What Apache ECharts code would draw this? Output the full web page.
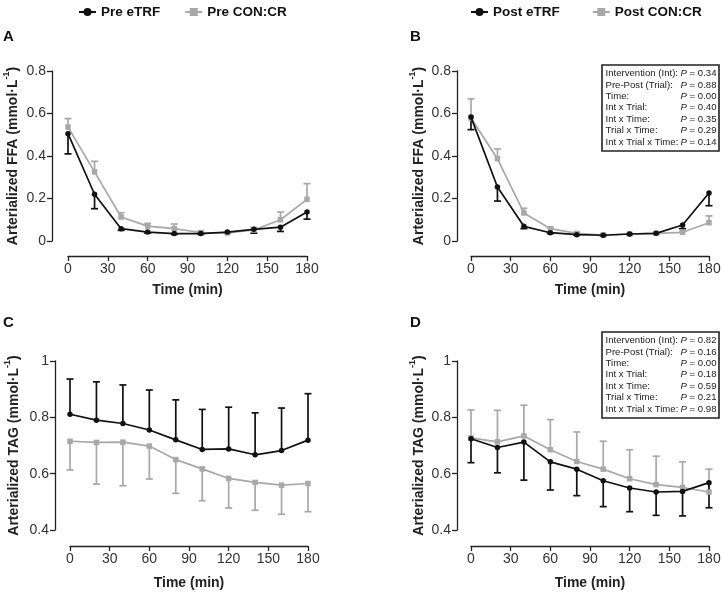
<!DOCTYPE html>
<html><head><meta charset="utf-8">
<script src="https://cdn.jsdelivr.net/npm/echarts@6/dist/echarts.min.js"></script>
<style>html,body{margin:0;padding:0;background:#fff}#c{width:723px;height:593px}</style>
</head><body><div id="c"></div>
<script>
// ---------- data ----------
const times = [0, 20, 40, 60, 80, 100, 120, 140, 160, 180];
const xTicks = [0, 30, 60, 90, 120, 150, 180];

// Panel A: FFA pre
const ffaPreETRF     = [0.505, 0.220, 0.058, 0.042, 0.035, 0.035, 0.042, 0.055, 0.065, 0.136];
const ffaPreETRFSem  = [0.095, 0.068, 0.008, 0.005, 0.004, 0.004, 0.004, 0.018, 0.020, 0.033];
const ffaPreCON      = [0.536, 0.325, 0.113, 0.070, 0.058, 0.040, 0.038, 0.052, 0.100, 0.196];
const ffaPreCONSem   = [0.040, 0.050, 0.020, 0.013, 0.022, 0.006, 0.004, 0.012, 0.036, 0.074];
// Panel B: FFA post
const ffaPostETRF    = [0.583, 0.254, 0.069, 0.039, 0.030, 0.027, 0.033, 0.036, 0.075, 0.226];
const ffaPostETRFSem = [0.059, 0.066, 0.011, 0.004, 0.003, 0.003, 0.003, 0.003, 0.017, 0.060];
const ffaPostCON     = [0.579, 0.387, 0.132, 0.058, 0.036, 0.028, 0.033, 0.036, 0.041, 0.086];
const ffaPostCONSem  = [0.090, 0.046, 0.022, 0.006, 0.004, 0.003, 0.003, 0.003, 0.004, 0.032];
// Panel C: TAG pre
const tagPreETRF     = [0.811, 0.790, 0.778, 0.755, 0.720, 0.686, 0.688, 0.667, 0.682, 0.719];
const tagPreETRFSem  = [0.125, 0.136, 0.137, 0.142, 0.142, 0.142, 0.148, 0.149, 0.151, 0.165];
const tagPreCON      = [0.715, 0.711, 0.712, 0.698, 0.650, 0.617, 0.583, 0.569, 0.559, 0.565];
const tagPreCONSem   = [0.102, 0.148, 0.155, 0.117, 0.120, 0.113, 0.105, 0.099, 0.103, 0.100];
// Panel D: TAG post
const tagPostETRF    = [0.724, 0.693, 0.712, 0.642, 0.616, 0.575, 0.549, 0.535, 0.537, 0.568];
const tagPostETRFSem = [0.085, 0.090, 0.135, 0.100, 0.094, 0.092, 0.084, 0.083, 0.087, 0.089];
const tagPostCON     = [0.727, 0.713, 0.734, 0.685, 0.643, 0.616, 0.582, 0.561, 0.551, 0.535];
const tagPostCONSem  = [0.099, 0.112, 0.109, 0.107, 0.105, 0.099, 0.103, 0.101, 0.091, 0.081];

const statLabels = ['Intervention (Int):', 'Pre-Post (Trial):', 'Time:', 'Int x Trial:', 'Int x Time:', 'Trial x Time:', 'Int x Trial x Time:'];
const statPB = ['0.34', '0.88', '0.00', '0.40', '0.35', '0.29', '0.14'];
const statPD = ['0.82', '0.16', '0.00', '0.18', '0.59', '0.21', '0.98'];

const ffaTicks = [0, 0.2, 0.4, 0.6, 0.8];
const tagTicks = [0.4, 0.6, 0.8, 1];

// ---------- style ----------
const FONT = "'Liberation Sans', Arial, sans-serif";
const BLACK = '#111111';
const GRAY = '#a8a8a8';

const grids = [
  { left: 68, top: 71, width: 239, height: 170 },
  { left: 471, top: 71, width: 238, height: 170 },
  { left: 70, top: 361, width: 238, height: 169 },
  { left: 471, top: 361, width: 238, height: 169 }
].map(g => Object.assign(g, { containLabel: false, outerBoundsMode: 'none' }));
const yOff = [16, 14, 15, 14];
const xOff = [15, 15, 16, 16];
const nameGapY = [32, 31, 34, 31];
const nameGapX = [27, 27, 30, 30];

function xAxis(i) {
  return {
    gridIndex: i, type: 'value', min: xTicks[0], max: xTicks[xTicks.length - 1], interval: 30,
    offset: xOff[i],
    axisLine: { show: true, onZero: false, lineStyle: { color: '#222', width: 1.3 } },
    axisTick: { show: true, length: 5, lineStyle: { color: '#222', width: 1.3 } },
    axisLabel: { fontFamily: FONT, fontSize: 14, color: '#333', margin: 6 },
    splitLine: { show: false },
    name: 'Time (min)', nameLocation: 'middle', nameGap: nameGapX[i], nameMoveOverlap: false,
    nameTextStyle: { fontFamily: FONT, fontSize: 14, fontWeight: 'bold', color: '#222' }
  };
}
function yAxis(i, ffa) {
  const ticks = ffa ? ffaTicks : tagTicks;
  const lbl = ffa ? 'Arterialized FFA (mmol·L' : 'Arterialized TAG (mmol·L';
  return {
    gridIndex: i, type: 'value', min: ticks[0], max: ticks[ticks.length - 1], interval: 0.2,
    offset: yOff[i],
    axisLine: { show: true, onZero: false, lineStyle: { color: '#222', width: 1.3 } },
    axisTick: { show: true, length: 5, lineStyle: { color: '#222', width: 1.3 } },
    axisLabel: { fontFamily: FONT, fontSize: 14, color: '#333', margin: 6 },
    splitLine: { show: false },
    name: '{a|' + lbl + '}{s|-1}{a|)}', nameLocation: 'middle', nameGap: nameGapY[i], nameMoveOverlap: false,
    nameTextStyle: {
      rich: {
        a: { fontFamily: FONT, fontSize: 14, fontWeight: 'bold', color: '#222', lineHeight: 18, verticalAlign: 'bottom' },
        s: { fontFamily: FONT, fontSize: 9, fontWeight: 'bold', color: '#222', lineHeight: 18, verticalAlign: 'top' }
      }
    }
  };
}

function lineSeries(name, i, vals, color, symbol) {
  return {
    name: name, type: 'line', xAxisIndex: i, yAxisIndex: i,
    data: times.map((t, k) => [t, vals[k]]),
    symbol: symbol, symbolSize: 5.5,
    showSymbol: true,
    lineStyle: { color: color, width: 1.7 },
    itemStyle: { color: color },
    z: color === BLACK ? 4 : 3,
    animation: false
  };
}
function errSeries(i, vals, sems, dir, color) {
  return {
    type: 'custom', xAxisIndex: i, yAxisIndex: i,
    data: times.map((t, k) => [t, vals[k], sems[k]]),
    encode: { x: 0, y: 1 },
    clip: false, silent: true, animation: false,
    z: color === BLACK ? 2 : 1,
    renderItem: function (params, api) {
      const t = api.value(0), m = api.value(1), s = api.value(2);
      const p0 = api.coord([t, m]);
      const p1 = api.coord([t, m + dir * s]);
      const st = { stroke: color, lineWidth: 1.7 };
      return {
        type: 'group', children: [
          { type: 'line', shape: { x1: p0[0], y1: p0[1], x2: p1[0], y2: p1[1] }, style: st },
          { type: 'line', shape: { x1: p1[0] - 3.5, y1: p1[1], x2: p1[0] + 3.5, y2: p1[1] }, style: st }
        ]
      };
    }
  };
}

function statBox(x, y, w, h, pvals) {
  const children = [{ type: 'rect', shape: { x: x, y: y, width: w, height: h }, style: { fill: '#fff', stroke: '#222', lineWidth: 1.6 } }];
  statLabels.forEach((l, k) => {
    const cy = y + 8.5 + k * 11.4;
    children.push({ type: 'text', style: { x: x + 3.5, y: cy, text: l, font: '9.6px ' + FONT, fill: '#222', textAlign: 'left', textVerticalAlign: 'middle' } });
    children.push({ type: 'text', style: { x: x + w - 2.5, y: cy, text: '{i|P} = ' + pvals[k], font: '9.6px ' + FONT, fill: '#222', textAlign: 'right', textVerticalAlign: 'middle',
      rich: { i: { fontStyle: 'italic', fontFamily: FONT, fontSize: 9.6, fill: '#222', color: '#222' } } } });
  });
  return { type: 'group', children: children, z: 100 };
}
function letter(t, x, y) {
  return { type: 'text', style: { x: x, y: y, text: t, font: 'bold 15px ' + FONT, fill: '#111', textVerticalAlign: 'middle' } };
}

const chart = echarts.init(document.getElementById('c'), null, { renderer: 'canvas' });
chart.setOption({
  animation: false,
  backgroundColor: '#fff',
  grid: grids,
  xAxis: [xAxis(0), xAxis(1), xAxis(2), xAxis(3)],
  yAxis: [yAxis(0, true), yAxis(1, true), yAxis(2, false), yAxis(3, false)],
  legend: [
    { data: ['Pre eTRF', 'Pre CON:CR'], left: 73, top: 0, itemWidth: 17, itemHeight: 10, itemGap: 24,
      textStyle: { fontFamily: FONT, fontSize: 13.5, fontWeight: 'bold', color: '#111' } },
    { data: ['Post eTRF', 'Post CON:CR'], left: 465, top: 0, itemWidth: 17, itemHeight: 10, itemGap: 32,
      textStyle: { fontFamily: FONT, fontSize: 13.5, fontWeight: 'bold', color: '#111' } }
  ],
  series: [
    errSeries(0, ffaPreCON, ffaPreCONSem, 1, GRAY),
    errSeries(0, ffaPreETRF, ffaPreETRFSem, -1, BLACK),
    lineSeries('Pre CON:CR', 0, ffaPreCON, GRAY, 'rect'),
    lineSeries('Pre eTRF', 0, ffaPreETRF, BLACK, 'circle'),

    errSeries(1, ffaPostCON, ffaPostCONSem, 1, GRAY),
    errSeries(1, ffaPostETRF, ffaPostETRFSem, -1, BLACK),
    lineSeries('Post CON:CR', 1, ffaPostCON, GRAY, 'rect'),
    lineSeries('Post eTRF', 1, ffaPostETRF, BLACK, 'circle'),

    errSeries(2, tagPreCON, tagPreCONSem, -1, GRAY),
    errSeries(2, tagPreETRF, tagPreETRFSem, 1, BLACK),
    lineSeries('Pre CON:CR', 2, tagPreCON, GRAY, 'rect'),
    lineSeries('Pre eTRF', 2, tagPreETRF, BLACK, 'circle'),

    errSeries(3, tagPostCON, tagPostCONSem, 1, GRAY),
    errSeries(3, tagPostETRF, tagPostETRFSem, -1, BLACK),
    lineSeries('Post CON:CR', 3, tagPostCON, GRAY, 'rect'),
    lineSeries('Post eTRF', 3, tagPostETRF, BLACK, 'circle')
  ],
  graphic: [
    letter('A', 3, 37), letter('B', 410, 37), letter('C', 3, 323), letter('D', 410, 323),
    statBox(602, 65, 117, 86, statPB),
    statBox(602, 332, 117, 86, statPD)
  ]
});
</script></body></html>
